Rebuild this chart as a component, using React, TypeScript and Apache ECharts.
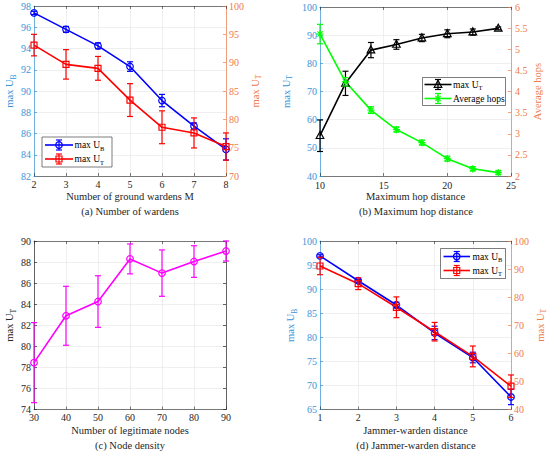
import React, { useEffect, useRef } from "react";
import * as echarts from "echarts";

// ---------- data ----------
// (a) Number of wardens
const xA = [2, 3, 4, 5, 6, 7, 8];
const ubA = [97.35, 95.8, 94.25, 92.3, 89.1, 86.7, 84.5];
const ubAErr = [0.15, 0.28, 0.28, 0.45, 0.58, 0.3, 1.0];
const utA = [93.1, 89.7, 89.0, 83.4, 78.6, 77.6, 75.2];
const utAErr = [1.9, 2.6, 2.1, 2.9, 2.9, 2.65, 2.4];

// (b) Maximum hop distance
const xB = [10, 12, 14, 16, 18, 20, 22, 24];
const utB = [54.3, 72.9, 84.7, 86.7, 89.0, 90.5, 91.1, 92.4];
const utBErr = [5.6, 4.3, 2.7, 1.7, 1.3, 1.4, 1.1, 0.5];
const hopsB = [5.36, 4.23, 3.56, 3.1, 2.79, 2.41, 2.17, 2.08];
const hopsBErr = [0.23, 0.1, 0.08, 0.06, 0.06, 0.06, 0.05, 0.04];

// (c) Node density
const xC = [30, 40, 50, 60, 70, 80, 90];
const utC = [78.45, 82.9, 84.25, 88.3, 86.95, 88.05, 89.05];
const utCErr = [3.8, 2.8, 2.45, 1.42, 2.2, 1.5, 0.95];

// (d) Jammer-warden distance
const xD = [1, 2, 3, 4, 5, 6];
const ubD = [96.9, 91.75, 86.7, 80.9, 75.8, 67.6];
const ubDErr = [0.25, 0.3, 0.6, 1.4, 1.1, 1.6];
const utD = [91.1, 84.8, 76.4, 67.7, 58.9, 48.3];
const utDErr = [3.1, 2.1, 3.7, 3.3, 3.7, 4.0];

// ---------- style ----------
const BLUE = "#0000ff";
const RED = "#ff0000";
const BLACK = "#000000";
const GREEN = "#00ff00";
const MAGENTA = "#ff00ff";
const LEFTC = "#3a95d8";
const RIGHTC = "#ef7b4b";
const AXC = "#262626";
const GRIDC = "#e4e4e4";
const FONT = "Liberation Serif";

function subRich(color: string, size: number, lh: number, pad: number) {
  return { s: { fontSize: size, fontFamily: FONT, color, fill: color, lineHeight: lh, padding: [pad, 0, 0, 0] } };
}

function markerEl(m: string, cx: number, cy: number, color: string, lw = 1.2): any {
  const style = { stroke: color, fill: "none", lineWidth: lw };
  if (m === "circle") return { type: "circle", shape: { cx, cy, r: 3.3 }, style };
  if (m === "square") return { type: "rect", shape: { x: cx - 3, y: cy - 3, width: 6, height: 6 }, style };
  if (m === "triangle")
    return { type: "polygon", shape: { points: [[cx, cy - 4.2], [cx - 3.8, cy + 2.8], [cx + 3.8, cy + 2.8]] }, style };
  const r = 3.6;
  const d = r * 0.72;
  return {
    type: "group",
    children: [
      { type: "line", shape: { x1: cx - r, y1: cy, x2: cx + r, y2: cy }, style },
      { type: "line", shape: { x1: cx, y1: cy - r, x2: cx, y2: cy + r }, style },
      { type: "line", shape: { x1: cx - d, y1: cy - d, x2: cx + d, y2: cy + d }, style },
      { type: "line", shape: { x1: cx - d, y1: cy + d, x2: cx + d, y2: cy - d }, style },
    ],
  };
}

function lineSeries(name: string, xs: number[], ys: number[], xi: number, yi: number, color: string) {
  return {
    type: "line",
    name,
    xAxisIndex: xi,
    yAxisIndex: yi,
    data: xs.map((x, i) => [x, ys[i]]),
    symbol: "none",
    lineStyle: { color, width: 1.6 },
    itemStyle: { color },
    silent: true,
    z: 2,
  };
}

function errSeries(name: string, xs: number[], ys: number[], es: number[], xi: number, yi: number, marker: string, color: string) {
  return {
    type: "custom",
    name: name + " error",
    xAxisIndex: xi,
    yAxisIndex: yi,
    data: xs.map((x, i) => [x, ys[i], es[i]]),
    encode: { x: 0, y: [1] },
    silent: true,
    z: 3,
    renderItem: (_params: any, api: any) => {
      const x = api.value(0);
      const y = api.value(1);
      const e = api.value(2);
      const p = api.coord([x, y]);
      const t = api.coord([x, y + e]);
      const b = api.coord([x, y - e]);
      const cap = 3;
      const st = { stroke: color, fill: "none", lineWidth: 1.2 };
      return {
        type: "group",
        children: [
          { type: "line", shape: { x1: p[0], y1: t[1], x2: p[0], y2: b[1] }, style: st },
          { type: "line", shape: { x1: p[0] - cap, y1: t[1], x2: p[0] + cap, y2: t[1] }, style: st },
          { type: "line", shape: { x1: p[0] - cap, y1: b[1], x2: p[0] + cap, y2: b[1] }, style: st },
          markerEl(marker, p[0], p[1], color),
        ],
      };
    },
  };
}

function xAxes(gridIndex: number, min: number, max: number, interval: number, name: string, margin = 3) {
  const line = { show: true, onZero: false, lineStyle: { color: AXC, width: 0.6 } };
  const tick = { show: true, inside: true, length: 3, lineStyle: { color: AXC, width: 0.6 } };
  return [
    {
      type: "value", gridIndex, position: "bottom", min, max, interval,
      name, nameLocation: "middle", nameGap: 15,
      nameTextStyle: { fontFamily: FONT, fontSize: 10.5, color: AXC },
      axisLine: line, axisTick: tick,
      axisLabel: { fontFamily: FONT, fontSize: 10, color: AXC, margin },
      splitLine: { show: true, lineStyle: { color: GRIDC, width: 0.6 } },
    },
    {
      type: "value", gridIndex, position: "top", min, max, interval,
      axisLine: line, axisTick: tick, axisLabel: { show: false }, splitLine: { show: false },
    },
  ];
}

function yAxis(gridIndex: number, pos: string, min: number, max: number, interval: number, name: string, color: string, nameGap: number, split: boolean, labels = true, margin = 3) {
  return {
    type: "value", gridIndex, position: pos, min, max, interval,
    name, nameLocation: "middle", nameGap,
    nameTextStyle: { fontFamily: FONT, fontSize: 10.5, color, lineHeight: 12, rich: subRich(color, 7.5, 12, 7) },
    axisLine: { show: true, onZero: false, lineStyle: { color, width: 0.7 } },
    axisTick: { show: true, inside: true, length: 3, lineStyle: { color, width: 0.7 } },
    axisLabel: { show: labels, fontFamily: FONT, fontSize: 10, color, margin },
    splitLine: { show: split, lineStyle: { color: GRIDC, width: 0.6 } },
  };
}

function withZ(el: any, z: number): any {
  const o = { ...el, z };
  if (el.children) o.children = el.children.map((c: any) => withZ(c, z));
  return o;
}

function legendGraphic(bx: number, by: number, bw: number, bh: number, lx1: number, lx2: number, tx: number,
  items: { y: number; color: string; marker: string; text: string }[]) {
  const children: any[] = [
    { type: "rect", shape: { x: bx, y: by, width: bw, height: bh }, style: { fill: "#ffffff", stroke: AXC, lineWidth: 0.6 } },
  ];
  items.forEach((it) => {
    const cx = (lx1 + lx2) / 2;
    const st = { stroke: it.color, fill: "none", lineWidth: 1.6 };
    const st2 = { stroke: it.color, fill: "none", lineWidth: 1.2 };
    children.push({ type: "line", shape: { x1: lx1, y1: it.y, x2: lx2, y2: it.y }, style: st });
    children.push({ type: "line", shape: { x1: cx, y1: it.y - 5, x2: cx, y2: it.y + 5 }, style: st2 });
    children.push({ type: "line", shape: { x1: cx - 3, y1: it.y - 5, x2: cx + 3, y2: it.y - 5 }, style: st2 });
    children.push({ type: "line", shape: { x1: cx - 3, y1: it.y + 5, x2: cx + 3, y2: it.y + 5 }, style: st2 });
    children.push(markerEl(it.marker, cx, it.y, it.color));
    children.push({
      type: "text", x: tx, y: it.y,
      style: {
        text: it.text, fontFamily: FONT, fontSize: 9.5, lineHeight: 11, fill: "#000000",
        align: "left", verticalAlign: "middle", rich: subRich("#000000", 6.5, 11, 6),
      },
    });
  });
  return withZ({ type: "group", children }, 100);
}

function caption(x: number, y: number, text: string) {
  return { type: "text", x, y, z: 100, style: { text, fontFamily: FONT, fontSize: 10.5, fill: AXC, align: "center", verticalAlign: "middle" } };
}

const option: any = {
  animation: false,
  backgroundColor: "#ffffff",
  grid: [
    { left: 34, top: 6, width: 192, height: 170, outerBoundsMode: "none" },
    { left: 320, top: 7, width: 191, height: 169, outerBoundsMode: "none" },
    { left: 34, top: 241, width: 192, height: 168.5, outerBoundsMode: "none" },
    { left: 320, top: 241, width: 191, height: 168.5, outerBoundsMode: "none" },
  ],
  xAxis: [
    ...xAxes(0, 2, 8, 1, "Number of ground wardens M"),
    ...xAxes(1, 10, 25, 5, "Maximum hop distance", 4.5),
    ...xAxes(2, 30, 90, 10, "Number of legitimate nodes"),
    ...xAxes(3, 1, 6, 1, "Jammer-warden distance"),
  ],
  yAxis: [
    yAxis(0, "left", 82, 98, 2, "max U{s|B}", LEFTC, 15, true),
    yAxis(0, "right", 70, 100, 5, "max U{s|T}", RIGHTC, 19, false),
    yAxis(1, "left", 40, 100, 10, "max U{s|T}", LEFTC, 28, true),
    yAxis(1, "right", 2, 6, 0.5, "Average hops", RIGHTC, 20, false, true, 4),
    yAxis(2, "left", 74, 90, 2, "max U{s|T}", AXC, 13, true),
    yAxis(2, "right", 74, 90, 2, "", AXC, 10, false, false),
    yAxis(3, "left", 65, 100, 5, "max U{s|B}", LEFTC, 21, true),
    yAxis(3, "right", 40, 100, 10, "max U{s|T}", RIGHTC, 21, false),
  ],
  series: [
    lineSeries("max UB (a)", xA, ubA, 0, 0, BLUE),
    errSeries("max UB (a)", xA, ubA, ubAErr, 0, 0, "circle", BLUE),
    lineSeries("max UT (a)", xA, utA, 0, 1, RED),
    errSeries("max UT (a)", xA, utA, utAErr, 0, 1, "square", RED),

    lineSeries("max UT (b)", xB, utB, 2, 2, BLACK),
    errSeries("max UT (b)", xB, utB, utBErr, 2, 2, "triangle", BLACK),
    lineSeries("Average hops", xB, hopsB, 2, 3, GREEN),
    errSeries("Average hops", xB, hopsB, hopsBErr, 2, 3, "star", GREEN),

    lineSeries("max UT (c)", xC, utC, 4, 4, MAGENTA),
    errSeries("max UT (c)", xC, utC, utCErr, 4, 4, "circle", MAGENTA),

    lineSeries("max UB (d)", xD, ubD, 6, 6, BLUE),
    errSeries("max UB (d)", xD, ubD, ubDErr, 6, 6, "circle", BLUE),
    lineSeries("max UT (d)", xD, utD, 6, 7, RED),
    errSeries("max UT (d)", xD, utD, utDErr, 6, 7, "square", RED),
  ],
  graphic: [
    legendGraphic(42, 137, 70, 30, 45, 73, 74.5, [
      { y: 145, color: BLUE, marker: "circle", text: "max U{s|B}" },
      { y: 159, color: RED, marker: "square", text: "max U{s|T}" },
    ]),
    legendGraphic(422.5, 77.5, 83, 28, 424.5, 451.5, 453, [
      { y: 84.5, color: BLACK, marker: "triangle", text: "max U{s|T}" },
      { y: 98.5, color: GREEN, marker: "star", text: "Average hops" },
    ]),
    legendGraphic(440.5, 248.5, 65, 30, 443.5, 470, 472.5, [
      { y: 256.5, color: BLUE, marker: "circle", text: "max U{s|B}" },
      { y: 270.5, color: RED, marker: "square", text: "max U{s|T}" },
    ]),
    caption(130, 211, "(a) Number of wardens"),
    caption(416, 211, "(b) Maximum hop distance"),
    caption(130, 445, "(c) Node density"),
    caption(416, 445, "(d) Jammer-warden distance"),
  ],
};

export default function App() {
  const ref = useRef<HTMLDivElement>(null);
  useEffect(() => {
    if (!ref.current) return;
    const chart = echarts.init(ref.current, undefined, { renderer: "svg" });
    chart.setOption(option);
    return () => chart.dispose();
  }, []);
  return (
    <div
      ref={ref}
      style={{ position: "absolute", left: 0, top: 0, width: 550, height: 454, background: "#ffffff" }}
    />
  );
}
